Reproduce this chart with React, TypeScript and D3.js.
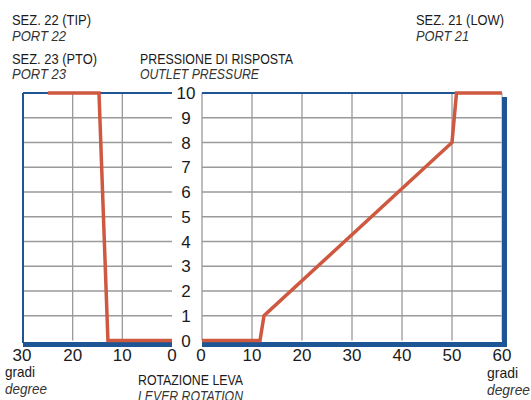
import React from "react";
import * as d3 from "d3";

const leftDeg = [25, 14.7, 12.9, 0];
const leftPress = [10, 10, 0, 0];
const rightDeg = [0, 11.6, 12.4, 50, 50.9, 60];
const rightPress = [0, 0, 1, 8, 10, 10];
const yTicks = [0, 1, 2, 3, 4, 5, 6, 7, 8, 9, 10];
const leftXTicks = [30, 20, 10, 0];
const rightXTicks = [0, 10, 20, 30, 40, 50, 60];

const BLUE = "#1d5595";
const RED = "#cf5840";
const GRID = "#9a9a9a";
const NARROW = "'Liberation Sans Narrow', 'Arial Narrow', 'Liberation Sans', sans-serif";
const SANS = "'Liberation Sans', Arial, sans-serif";

export default function App() {
  const y = d3.scaleLinear().domain([0, 10]).range([340.5, 93]);
  const xl = d3.scaleLinear().domain([30, 0]).range([23, 172]);
  const xr = d3.scaleLinear().domain([0, 60]).range([202, 502]);

  const lineL = d3
    .line<number>()
    .x((_, i) => xl(leftDeg[i]))
    .y((d) => y(d));
  const lineR = d3
    .line<number>()
    .x((_, i) => xr(rightDeg[i]))
    .y((d) => y(d));

  const T = (
    x: number,
    yy: number,
    s: string,
    w: number,
    italic = false,
    size = 14
  ) => (
    <text
      x={x}
      y={yy}
      fontFamily={NARROW}
      fontSize={size}
      fontStyle={italic ? "italic" : "normal"}
      fill={italic ? "#333" : "#1a1a1a"}
      textLength={w}
      lengthAdjust="spacingAndGlyphs"
    >
      {s}
    </text>
  );

  return (
    <svg
      width={531}
      height={400}
      style={{ position: "absolute", left: 0, top: 0, background: "#fff" }}
    >
      {/* grid left */}
      <g stroke={GRID} strokeWidth={1.3}>
        {yTicks
          .filter((t) => t > 0 && t < 10)
          .map((t) => (
            <line key={"hl" + t} x1={xl(30)} x2={xl(0)} y1={y(t)} y2={y(t)} />
          ))}
        {[20, 10].map((t) => (
          <line key={"vl" + t} x1={xl(t)} x2={xl(t)} y1={y(10)} y2={y(0)} />
        ))}
        {yTicks
          .filter((t) => t > 0 && t < 10)
          .map((t) => (
            <line key={"hr" + t} x1={xr(0)} x2={xr(60)} y1={y(t)} y2={y(t)} />
          ))}
        {rightXTicks.map((t) => (
          <line key={"vr" + t} x1={xr(t)} x2={xr(t)} y1={y(10)} y2={y(0)} stroke={t === 60 ? "#bbb" : GRID} />
        ))}
      </g>

      {/* frames */}
      <line x1={xl(30)} x2={xl(0)} y1={y(10)} y2={y(10)} stroke={BLUE} strokeWidth={2} />
      <line x1={xl(30)} x2={xl(30)} y1={y(10)} y2={343} stroke={BLUE} strokeWidth={2} />
      <line x1={xl(30)} x2={xl(0)} y1={344.5} y2={344.5} stroke={BLUE} strokeWidth={5} />
      <line x1={xr(0)} x2={xr(60)} y1={y(10)} y2={y(10)} stroke={BLUE} strokeWidth={2} />
      <line x1={xr(0)} x2={507} y1={344.5} y2={344.5} stroke={BLUE} strokeWidth={5} />
      <line x1={504.5} x2={504.5} y1={97} y2={347} stroke={BLUE} strokeWidth={5} />

      {/* series */}
      <path d={lineL(leftPress) || ""} fill="none" stroke={RED} strokeWidth={3.5} strokeLinejoin="miter" />
      <path d={lineR(rightPress) || ""} fill="none" stroke={RED} strokeWidth={3.5} strokeLinejoin="miter" />

      {/* y ticks */}
      {yTicks.map((t) => (
        <text
          key={"yt" + t}
          x={186}
          y={y(t)}
          dy="0.36em"
          textAnchor="middle"
          fontFamily={SANS}
          fontSize={17}
          fill="#1a1a1a"
        >
          {t}
        </text>
      ))}

      {/* x ticks */}
      {leftXTicks.map((t) => (
        <text key={"xl" + t} x={xl(t) - (t === 30 ? 1 : 0)} y={361} textAnchor="middle" fontFamily={SANS} fontSize={17} fill="#1a1a1a">
          {t}
        </text>
      ))}
      {rightXTicks.map((t) => (
        <text key={"xr" + t} x={xr(t) + (t === 0 ? -1 : 0)} y={361} textAnchor="middle" fontFamily={SANS} fontSize={17} fill="#1a1a1a">
          {t}
        </text>
      ))}

      {/* titles */}
      {T(12, 25, "SEZ. 22 (TIP)", 79)}
      {T(12, 40.5, "PORT 22", 54, true)}
      {T(12, 64, "SEZ. 23 (PTO)", 85)}
      {T(12, 78.5, "PORT 23", 54, true)}
      {T(140, 64, "PRESSIONE DI RISPOSTA", 153)}
      {T(140, 78.5, "OUTLET PRESSURE", 119, true)}
      {T(416, 25, "SEZ. 21 (LOW)", 88)}
      {T(416, 40.5, "PORT 21", 53, true)}

      {T(138, 385, "ROTAZIONE LEVA", 105, false, 15)}
      {T(138, 401, "LEVER ROTATION", 105, true, 15)}

      {T(5, 377, "gradi", 30, false, 15)}
      {T(5, 394, "degree", 42, true, 15)}
      {T(487, 378, "gradi", 31, false, 15)}
      {T(487, 395, "degree", 43, true, 15)}
    </svg>
  );
}
